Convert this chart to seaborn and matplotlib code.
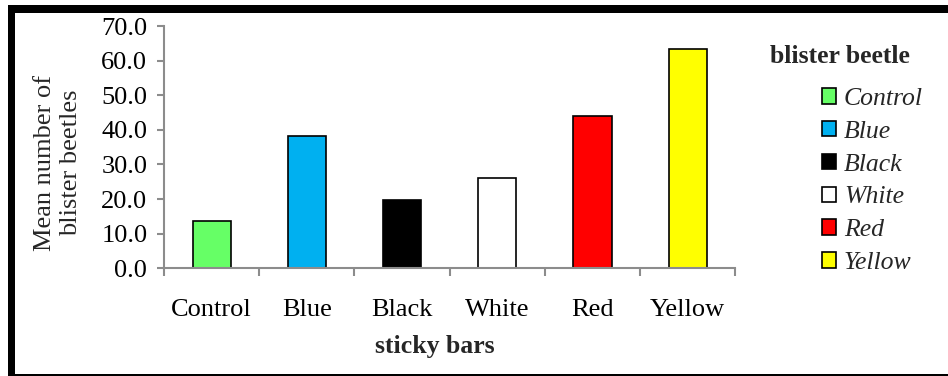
import matplotlib
matplotlib.use("Agg")
import matplotlib.pyplot as plt
from matplotlib.patches import Rectangle
from matplotlib.ticker import FixedLocator
import numpy as np
import pandas as pd
import seaborn as sns

# Mean catch of blister beetles per sticky-bar colour
categories = ["Control", "Blue", "Black", "White", "Red", "Yellow"]
mean_beetles = [13.6, 38.2, 19.6, 26.2, 44.1, 63.3]
bar_colors = ["#66FF66", "#00B0F0", "#000000", "#FFFFFF", "#FF0000", "#FFFF00"]
y_ticks = [0, 10, 20, 30, 40, 50, 60, 70]

W, H = 948, 376
sns.set_theme(style="white")
plt.rcParams["font.family"] = ["Liberation Serif", "DejaVu Serif"]
FS_TICK = 19
FS_LAB = 18.5

fig = plt.figure(figsize=(W / 100, H / 100), dpi=100)
fig.patch.set_facecolor("white")


def fx(px):
    return px / W


def fy(py):
    return 1 - py / H


ax = fig.add_axes([fx(164), fy(268.3), fx(735.3) - fx(164), fy(26) - fy(268.3)])

df = pd.DataFrame({"bar": categories, "mean": mean_beetles})
sns.barplot(data=df, x="bar", y="mean", hue="bar", palette=bar_colors,
            order=categories, hue_order=categories, width=0.4, saturation=1,
            edgecolor="black", linewidth=1.2, legend=False, ax=ax)

ax.set_xlim(-0.5, len(categories) - 0.5)
ax.set_ylim(0, 70)
ax.set_yticks(y_ticks)
ax.set_yticklabels([f"{v:.1f}" for v in y_ticks], fontsize=FS_TICK)
ax.set_xticks(range(len(categories)))
ax.set_xticklabels(categories, fontsize=FS_TICK)
ax.xaxis.set_minor_locator(FixedLocator(np.arange(-0.5, len(categories), 1.0)))
ax.set_xlabel("")
ax.set_ylabel("")

axis_gray = "#8C8C8C"
for side in ["top", "right"]:
    ax.spines[side].set_visible(False)
for side in ["left", "bottom"]:
    ax.spines[side].set_color(axis_gray)
    ax.spines[side].set_linewidth(1.5)

ax.tick_params(axis="y", which="major", direction="out", length=5, width=1.5,
               color=axis_gray, pad=7, left=True, labelcolor="black")
ax.tick_params(axis="x", which="major", length=0, pad=22, labelcolor="black")
ax.tick_params(axis="x", which="minor", direction="out", length=6, width=1.5,
               color=axis_gray, bottom=True)
ax.grid(False)

# Axis titles
fig.text(fx(58), fy(163), "Mean number of\nblister beetles", rotation=90,
         ha="center", va="center", multialignment="center", fontsize=FS_TICK,
         linespacing=1.2)
fig.text(fx(435), fy(353), "sticky bars", ha="center", va="baseline",
         fontsize=FS_LAB, fontweight="bold")

# Legend
handles = [c.patches[0] for c in ax.containers]
fig.text(fx(770), fy(63), "blister beetle", ha="left", va="baseline",
         fontsize=FS_LAB, fontweight="bold")
leg = fig.legend(handles, categories, loc="upper left",
                 bbox_to_anchor=(fx(822), fy(88)), frameon=False,
                 prop={"family": ["Liberation Serif"], "style": "italic", "size": FS_LAB},
                 handlelength=0.55, handleheight=0.55, handletextpad=0.3,
                 labelspacing=0.42, borderpad=0, borderaxespad=0)

# Page border
fig.add_artist(Rectangle((fx(8), fy(13)), 1 - fx(8), fy(5) - fy(13),
                         transform=fig.transFigure, facecolor="black",
                         edgecolor="none"))
fig.add_artist(Rectangle((fx(8), 0), fx(15) - fx(8), fy(5),
                         transform=fig.transFigure, facecolor="black",
                         edgecolor="none"))
fig.add_artist(Rectangle((fx(8), 0), 1 - fx(8), fy(374),
                         transform=fig.transFigure, facecolor="black",
                         edgecolor="none"))

fig.savefig("out.png", dpi=100, facecolor="white")
